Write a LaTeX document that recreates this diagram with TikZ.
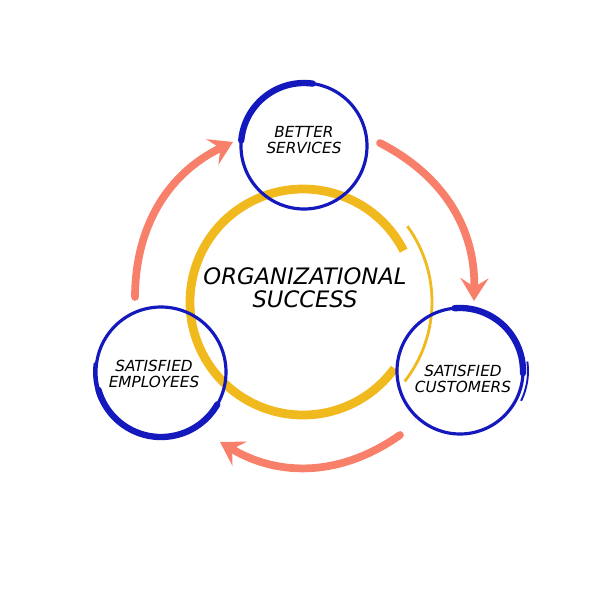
\documentclass[tikz,border=0pt]{standalone}
\usepackage{fontspec}
\setmainfont{DejaVu Sans}
\usetikzlibrary{arrows.meta}
\definecolor{ringyellow}{RGB}{240,185,30}
\definecolor{ringblue}{RGB}{20,25,190}
\definecolor{arrowsalmon}{RGB}{248,128,106}
\newcommand{\drawBrushCircle}[4]{%
    \draw[ringblue, line width=1.8pt] (#1) circle (#2);
    \draw[ringblue, line width=3.6pt, line cap=round] (#1) ++(#3:#2) arc (#3:#4:#2);
}
\begin{document}
\begin{tikzpicture}[x=0.02cm, y=0.02cm,
    bigtext/.style={font=\itshape\fontsize{12.9}{13}\selectfont, align=center},
    smalltext/.style={font=\itshape\fontsize{8.7}{9.6}\selectfont, align=center},
    flow/.style={arrowsalmon, line width=4.4pt, line cap=round,
        -{Stealth[length=13pt, width=16pt, inset=5pt]}}]
\useasboundingbox (0,0) rectangle (596,600);

% centres of the rings
\coordinate (hub) at (303,298);
\coordinate (servicesc) at (304,454);
\coordinate (employeesc) at (161,228);
\coordinate (customersc) at (460,229);

% big yellow ring
\draw[ringyellow, line width=5pt] (hub) ++(27:113) arc (27:324:113);
\draw[ringyellow, line width=1.6pt] (hub) ++(36:129) arc (36:-38:129);

% blue rings
\drawBrushCircle{servicesc}{63}{82}{175}
\drawBrushCircle{employeesc}{65}{196}{330}
\drawBrushCircle{customersc}{63}{95}{-2}
\draw[ringblue, line width=1.1pt] (customersc) ++(8:68) arc (8:-26:68);
\draw[ringblue, line width=1.1pt] (employeesc) ++(172:67) arc (172:205:67);

\node[bigtext] (success) at (305,312) {ORGANIZATIONAL\\SUCCESS};
\node[smalltext] (services) at (304,460) {BETTER\\SERVICES};
\node[smalltext] (employees) at (154,226) {SATISFIED\\EMPLOYEES};
\node[smalltext] (customers) at (463,221) {SATISFIED\\CUSTOMERS};

% arrows round the cycle
\coordinate (upfrom) at (135,303);
\coordinate (upto) at (233,458);
\coordinate (downfrom) at (380,457);
\coordinate (downto) at (474,299);
\coordinate (backfrom) at (400,165);
\coordinate (backto) at (220,158);
\draw[flow] (upfrom) to[bend left=32] (upto);
\draw[flow] (downfrom) to[bend left=32] (downto);
\draw[flow] (backfrom) to[bend left=33] (backto);
\end{tikzpicture}
\end{document}
